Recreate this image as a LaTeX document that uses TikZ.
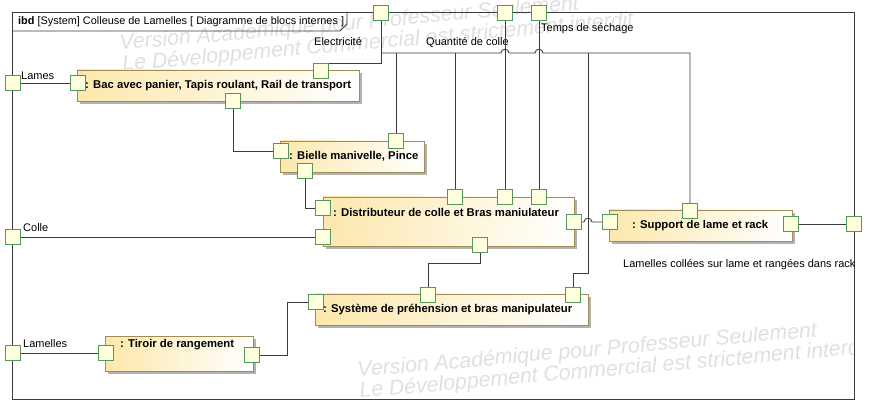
\documentclass[tikz,border=0pt]{standalone}
\usepackage{fontspec}
\setmainfont{Liberation Sans}
\usetikzlibrary{shadows}
\definecolor{lineC}{RGB}{60,60,60}
\definecolor{blockL}{RGB}{252,232,172}
\definecolor{blockB}{RGB}{160,140,85}
\definecolor{portB}{RGB}{85,150,95}
\definecolor{portF}{RGB}{255,255,222}
\definecolor{wmC}{RGB}{224,224,224}
\tikzset{
  blockbox/.style={draw=blockB, line width=0.9pt, left color=blockL, right color=white, shading angle=90,
    inner sep=0, drop shadow={shadow xshift=3pt, shadow yshift=-3pt, fill=black!30, opacity=1}},
  portbox/.style={draw=portB, fill=portF, line width=0.9pt, minimum size=15pt, inner sep=0},
  conn/.style={draw=lineC, line width=0.9pt},
  lbl/.style={anchor=west, inner sep=0, font=\fontsize{11}{13}\selectfont},
  btxt/.style={anchor=west, inner sep=0, font=\fontsize{11.3}{13}\selectfont\bfseries},
  wm/.style={anchor=base west, inner sep=0, text=wmC, rotate=5, font=\fontsize{21.3}{21}\selectfont\itshape}
}
\begin{document}
\begin{tikzpicture}[x=1pt, y=-1pt]
\useasboundingbox (0,0) rectangle (876,414);
\fill[white] (0,0) rectangle (876,414);
% watermark
\begin{scope}
\clip (0,0) rectangle (854,399);
\node[wm] (wm1) at (120,50) {Version Académique pour Professeur Seulement};
\node[wm] (wm2) at (123,71) {Le Développement Commercial est strictement interdit};
\node[wm] (wm3) at (358,377) {Version Académique pour Professeur Seulement};
\node[wm] (wm4) at (360,398) {Le Développement Commercial est strictement interdit};
\end{scope}
% frame
\draw[conn] (12,12) rectangle (854,399);
\draw[conn] (12,31) -- (340,31) -- (347,24) -- (347,12);
\node[lbl, font=\fontsize{10.9}{13}\selectfont] (hdr) at (18,22) {\textbf{ibd} [System] Colleuse de Lamelles [ Diagramme de blocs internes ]};
% blocks
\node[blockbox, minimum width=282pt, minimum height=31pt] (B1) at (218,85.5) {};
\node[blockbox, minimum width=144pt, minimum height=31pt] (B2) at (352,156.5) {};
\node[blockbox, minimum width=251pt, minimum height=49pt] (B3) at (448.5,221.5) {};
\node[blockbox, minimum width=183pt, minimum height=31pt] (B4) at (700.5,225.5) {};
\node[blockbox, minimum width=273pt, minimum height=31pt] (B5) at (451.5,309.5) {};
\node[blockbox, minimum width=148pt, minimum height=35pt] (B6) at (179,353.5) {};
\node[btxt] (t1) at (85,86) {: Bac avec panier, Tapis roulant, Rail de transport};
\node[btxt] (t2) at (289,156) {: Bielle manivelle, Pince};
\node[btxt] (t3) at (333,212) {: Distributeur de colle et Bras maniulateur};
\node[btxt] (t4) at (632,226) {: Support de lame et rack};
\node[btxt] (t5) at (323,310) {: Système de préhension et bras manipulateur};
\node[btxt] (t6) at (120,345) {: Tiroir de rangement};
% labels
\node[lbl] (lLames) at (21,76) {Lames};
\node[lbl] (lElec) at (314,42) {Electricité};
\node[lbl] (lQ) at (426,42) {Quantité de colle};
\node[lbl] (lT) at (541,29) {Temps de séchage};
\node[lbl] (lColle) at (23,228) {Colle};
\node[lbl] (lLam) at (23,344) {Lamelles};
\node[lbl] (lOut) at (623,265) {Lamelles collées sur lame et rangées dans rack};
% ports
\node[portbox] (pE) at (381,13) {};
\node[portbox] (pQ) at (505,13) {};
\node[portbox] (pT) at (539,13) {};
\node[portbox] (pLames) at (13,83) {};
\node[portbox] (pColle) at (13,237) {};
\node[portbox] (pLam) at (13,353) {};
\node[portbox] (pOut) at (854,224) {};
\node[portbox] (b1l) at (78,83) {};
\node[portbox] (b1t) at (321,71) {};
\node[portbox] (b1b) at (233,101) {};
\node[portbox] (bl) at (281,151) {};
\node[portbox] (bt) at (396,141) {};
\node[portbox] (bb) at (305,171) {};
\node[portbox] (dl1) at (323,208) {};
\node[portbox] (dl2) at (323,237) {};
\node[portbox] (dt1) at (455,197) {};
\node[portbox] (dt2) at (505,197) {};
\node[portbox] (dt3) at (539,197) {};
\node[portbox] (dr) at (574,222) {};
\node[portbox] (db) at (480,245) {};
\node[portbox] (sl) at (610,222) {};
\node[portbox] (st) at (690,211) {};
\node[portbox] (sr) at (791,224) {};
\node[portbox] (yl) at (316,302) {};
\node[portbox] (yt1) at (428,295) {};
\node[portbox] (yt2) at (573,295) {};
\node[portbox] (tl) at (106,353) {};
\node[portbox] (tr) at (252,355) {};
% junction coordinates
\coordinate (jE) at (381,53);
\coordinate (jB) at (396,53);
\coordinate (jD) at (455,53);
\coordinate (jS) at (588,53);
% connectors
\draw[conn] (pE.south) |- (b1t.north east);
\draw[conn] (jE) -- (501,53) .. controls (501,48) and (509,48) .. (509,53)
  -- (535,53) .. controls (535,48) and (543,48) .. (543,53) -- (st.north |- jE) -- (st.north);
\draw[conn] (jB) -- (bt.north);
\draw[conn] (jD) -- (dt1.north);
\draw[conn] (jS) -- (588,273) -| (yt2.north);
\draw[conn] (pQ) -- (dt2);
\draw[conn] (pT) -- (dt3);
\draw[conn] (pLames) -- (b1l);
\draw[conn] (b1b.south) |- (bl.west);
\draw[conn] (bb.south) |- (dl1.west);
\draw[conn] (pColle) -- (dl2);
\draw[conn] (dr.east) -- (584,222) .. controls (584,217) and (592,217) .. (592,222) -- (sl.west);
\draw[conn] (sr) -- (pOut);
\draw[conn] (db.south) -- (480,263) -| (yt1.north);
\draw[conn] (pLam) -- (tl);
\draw[conn] (tr.east) -- (287,355) |- (yl.west);
\end{tikzpicture}
\end{document}
